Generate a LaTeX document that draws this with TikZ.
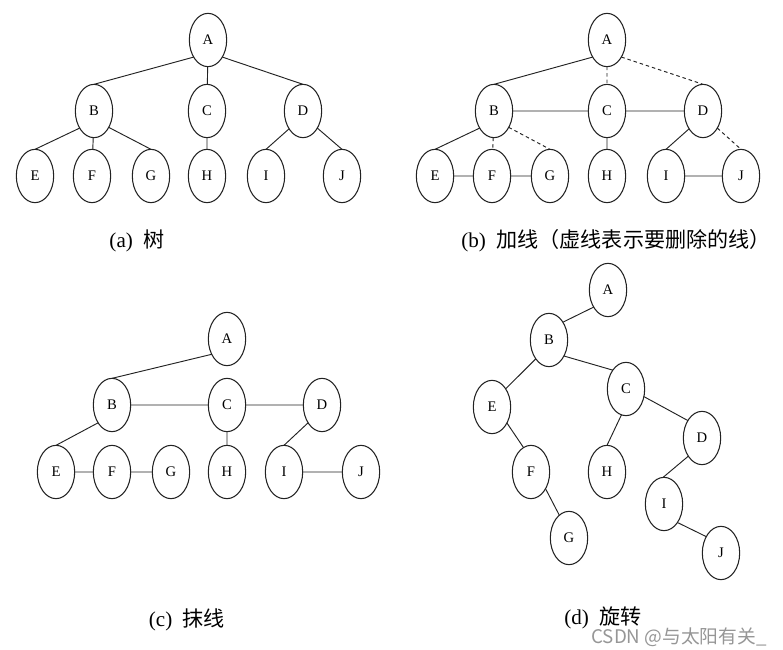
\documentclass[tikz,border=0pt]{standalone}
\usepackage{fontspec}
\setmainfont{Liberation Serif}
\newfontfamily\cjkfont{Noto Sans CJK SC}
\usetikzlibrary{shapes.geometric}
\definecolor{c222222}{RGB}{34,34,34}
\definecolor{wmgray}{RGB}{150,150,150}
\tikzset{
  treenode/.style={draw=c222222, line width=0.9pt, ellipse, minimum width=1.12cm, minimum height=1.6cm, inner sep=0pt, font=\fontsize{12.5}{14}\selectfont},
  treeline/.style={draw=c222222, line width=0.8pt},
  cutline/.style={treeline, dashed, dash pattern=on 3pt off 2.5pt},
  caption/.style={inner sep=0pt, anchor=center, font=\fontsize{18}{20}\selectfont}
}

\begin{document}
\begin{tikzpicture}[x=0.03cm, y=-0.03cm, inner sep=0pt, outer sep=0pt]
  \useasboundingbox (0,0) rectangle (783,650);

  % (a) tree
  \node[treenode] (aA) at (208, 40){A};
  \node[treenode] (aB) at (94, 111){B};
  \node[treenode] (aC) at (207, 111){C};
  \node[treenode] (aD) at (303, 111){D};
  \node[treenode] (aE) at (35, 176){E};
  \node[treenode] (aF) at (92, 176){F};
  \node[treenode] (aG) at (151, 176){G};
  \node[treenode] (aH) at (207, 176){H};
  \node[treenode] (aI) at (266, 176){I};
  \node[treenode] (aJ) at (342, 176){J};
  \path[treeline] (aA.-130) -- (aB.north) (aA) -- (aC) (aA.-50) -- (aD.north);
  \path[treeline] (aB.-130) -- (aE.north) (aB) -- (aF) (aB.-48) -- (aG.north);
  \path[treeline] (aC) -- (aH) (aD.-128) -- (aI.north) (aD.-50) -- (aJ.north);
  \node[caption] (capa) at (137, 241){(a)\ \ \cjkfont 树};


  % (b) add lines
  \node[treenode] (bA) at (607, 40){A};
  \node[treenode] (bB) at (494, 111){B};
  \node[treenode] (bC) at (607, 111){C};
  \node[treenode] (bD) at (703, 111){D};
  \node[treenode] (bE) at (435, 176){E};
  \node[treenode] (bF) at (492, 176){F};
  \node[treenode] (bG) at (550, 176){G};
  \node[treenode] (bH) at (607, 176){H};
  \node[treenode] (bI) at (666, 176){I};
  \node[treenode] (bJ) at (741, 176){J};
  \path[treeline] (bA.-130) -- (bB.north) (bB) -- (bC) (bC) -- (bD);
  \path[treeline] (bB.-130) -- (bE.north) (bE) -- (bF) (bF) -- (bG);
  \path[treeline] (bC) -- (bH) (bD.-128) -- (bI.north) (bI) -- (bJ);
  \path[cutline] (bA) -- (bC) (bA.-50) -- (bD.north);
  \path[cutline] (bB) -- (bF) (bB.-48) -- (bG.north) (bD.-50) -- (bJ.north);
  \node[caption] (capb) at (616, 241){(b)\ \ \cjkfont 加线（虚线表示要删除的线）};


  % (c) remove lines
  \node[treenode] (cA) at (227, 339){A};
  \node[treenode] (cB) at (112, 405){B};
  \node[treenode] (cC) at (227, 405){C};
  \node[treenode] (cD) at (322, 405){D};
  \node[treenode] (cE) at (56, 472){E};
  \node[treenode] (cF) at (112, 472){F};
  \node[treenode] (cG) at (171, 472){G};
  \node[treenode] (cH) at (227, 472){H};
  \node[treenode] (cI) at (284, 472){I};
  \node[treenode] (cJ) at (361, 472){J};
  \path[treeline] (cA.-135) -- (cB.north) (cB) -- (cC) (cC) -- (cD);
  \path[treeline] (cB.-128) -- (cE.north) (cE) -- (cF) (cF) -- (cG);
  \path[treeline] (cC) -- (cH) (cD.-128) -- (cI.north) (cI) -- (cJ);
  \node[caption] (capc) at (187, 620){(c)\ \ \cjkfont 抹线};


  % (d) rotate
  \node[treenode] (dA) at (608, 290){A};
  \node[treenode] (dB) at (549, 340){B};
  \node[treenode] (dC) at (626, 389){C};
  \node[treenode] (dD) at (702, 438){D};
  \node[treenode] (dE) at (492, 407){E};
  \node[treenode] (dF) at (531, 472){F};
  \node[treenode] (dG) at (569, 538){G};
  \node[treenode] (dH) at (607, 472){H};
  \node[treenode] (dI) at (664, 504){I};
  \node[treenode] (dJ) at (721, 553){J};
  \path[treeline] (dA.-130) -- (dB.52) (dB.-125) -- (dE.53) (dB.-47) -- (dC.125);
  \path[treeline] (dE.-47) -- (dF.107) (dF.-49) -- (dG.113) (dC.-100) -- (dH.north);
  \path[treeline] (dC.-23) -- (dD.129) (dD.-127) -- (dI.92) (dI.-54) -- (dJ.132);
  \node[caption] (capd) at (603, 618){(d)\ \ \cjkfont 旋转};

  \node[inner sep=0pt, text=wmgray, font=\fontsize{16}{18}\selectfont\cjkfont] (mark) at (679, 637){CSDN @与太阳有关\_};

\end{tikzpicture}
\end{document}
